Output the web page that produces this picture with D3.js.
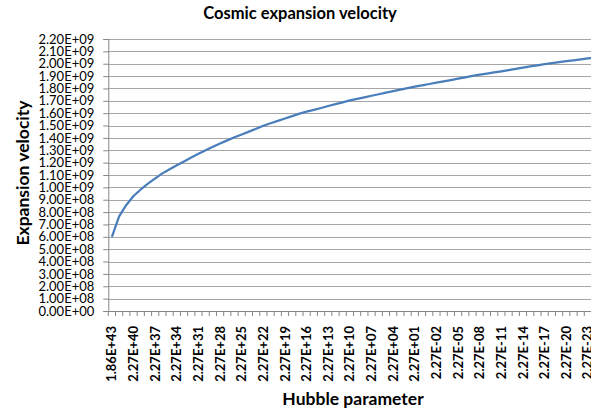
<!DOCTYPE html>
<html>
<head>
<meta charset="utf-8">
<script src="https://cdn.jsdelivr.net/npm/d3@7"></script>
<style>
  html, body { margin: 0; padding: 0; background: #fff; overflow: hidden; }
  svg { display: block; font-family: Lato, "Open Sans", sans-serif; }
</style>
</head>
<body>
<svg id="chart" width="591" height="414"></svg>
<script>
// Hubble parameter categories (only every third one gets a label)
const hubble = [
  "1.86E+43", "2.27E+42", "2.27E+41", "2.27E+40", "2.27E+39", "2.27E+38",
  "2.27E+37", "2.27E+36", "2.27E+35", "2.27E+34", "2.27E+33", "2.27E+32",
  "2.27E+31", "2.27E+30", "2.27E+29", "2.27E+28", "2.27E+27", "2.27E+26",
  "2.27E+25", "2.27E+24", "2.27E+23", "2.27E+22", "2.27E+21", "2.27E+20",
  "2.27E+19", "2.27E+18", "2.27E+17", "2.27E+16", "2.27E+15", "2.27E+14",
  "2.27E+13", "2.27E+12", "2.27E+11", "2.27E+10", "2.27E+09", "2.27E+08",
  "2.27E+07", "2.27E+06", "2.27E+05", "2.27E+04", "2.27E+03", "2.27E+02",
  "2.27E+01", "2.27E+00", "2.27E-01", "2.27E-02", "2.27E-03", "2.27E-04",
  "2.27E-05", "2.27E-06", "2.27E-07", "2.27E-08", "2.27E-09", "2.27E-10",
  "2.27E-11", "2.27E-12", "2.27E-13", "2.27E-14", "2.27E-15", "2.27E-16",
  "2.27E-17", "2.27E-18", "2.27E-19", "2.27E-20", "2.27E-21", "2.27E-22",
  "2.27E-23", "2.27E-24", "2.27E-25"
];

// expansion velocity
const velocity = [
  6.00e8, 7.65e8, 8.58e8, 9.30e8, 9.83e8, 10.30e8,
  10.73e8, 11.13e8, 11.47e8, 11.79e8, 12.10e8, 12.41e8,
  12.71e8, 13.00e8, 13.28e8, 13.55e8, 13.80e8, 14.05e8,
  14.28e8, 14.51e8, 14.74e8, 14.98e8, 15.19e8, 15.38e8,
  15.57e8, 15.76e8, 15.96e8, 16.12e8, 16.27e8, 16.42e8,
  16.58e8, 16.73e8, 16.88e8, 17.03e8, 17.15e8, 17.28e8,
  17.41e8, 17.53e8, 17.66e8, 17.78e8, 17.91e8, 18.03e8,
  18.14e8, 18.25e8, 18.36e8, 18.47e8, 18.58e8, 18.68e8,
  18.79e8, 18.90e8, 19.01e8, 19.11e8, 19.20e8, 19.30e8,
  19.39e8, 19.49e8, 19.58e8, 19.68e8, 19.78e8, 19.87e8,
  19.97e8, 20.05e8, 20.13e8, 20.21e8, 20.28e8, 20.36e8,
  20.43e8, 20.50e8, 20.57e8
];

// y axis ticks
const yTicks = d3.range(0, 23).map(i => i * 1e8);

const svg = d3.select('#chart');
const plotLeft = 108.3, plotTop = 39, plotBottom = 311;
const band = 7.212;

const x = d3.scaleBand()
  .domain(hubble)
  .range([plotLeft, plotLeft + band * hubble.length])
  .paddingInner(0)
  .paddingOuter(0);

const y = d3.scaleLinear()
  .domain([0, 2.2e9])
  .range([plotBottom, plotTop]);

const fmt = v => {
  const s = v.toExponential(2).toUpperCase();
  return s.replace(/E([+-])(\d)$/, 'E$10$2');
};

// gridlines
svg.append('g')
  .selectAll('line')
  .data(yTicks.slice(1))
  .join('line')
  .attr('x1', plotLeft)
  .attr('x2', x.range()[1])
  .attr('y1', d => Math.round(y(d)) + 0.5)
  .attr('y2', d => Math.round(y(d)) + 0.5)
  .attr('stroke', '#a6a6a6')
  .attr('stroke-width', 1);

// y axis
const yAxis = svg.append('g')
  .attr('transform', `translate(${plotLeft},0)`)
  .call(d3.axisLeft(y).tickValues(yTicks).tickFormat(fmt).tickSizeOuter(0).tickSize(5).tickPadding(9));
yAxis.select('.domain').attr('stroke', '#868686');
yAxis.selectAll('.tick line').attr('stroke', '#868686');
yAxis.selectAll('.tick text')
  .attr('fill', '#000')
  .style('font-size', '13px')
  .style('font-family', 'Lato, sans-serif');

// x axis
const xAxis = svg.append('g')
  .attr('transform', `translate(0,${plotBottom})`)
  .call(d3.axisBottom(x).tickSize(0).tickSizeOuter(0)
    .tickValues(hubble.filter((d, i) => i % 3 === 0)));
xAxis.select('.domain').attr('stroke', '#868686');
xAxis.selectAll('.tick text')
  .attr('fill', '#000')
  .attr('transform', 'rotate(-90)')
  .attr('text-anchor', 'end')
  .attr('x', -15)
  .attr('y', 0)
  .attr('dy', '0.35em')
  .style('font-size', '13px')
  .style('font-weight', 'bold')
  .style('font-family', 'Lato, sans-serif');

// tick marks on category boundaries
svg.append('g')
  .selectAll('line')
  .data(hubble)
  .join('line')
  .attr('x1', d => x(d))
  .attr('x2', d => x(d))
  .attr('y1', plotBottom)
  .attr('y2', plotBottom + 5)
  .attr('stroke', '#868686');

// series line
const line = d3.line()
  .x((d, i) => x(hubble[i]) + x.bandwidth() / 2)
  .y(d => y(d));

svg.append('path')
  .datum(velocity)
  .attr('d', line)
  .attr('fill', 'none')
  .attr('stroke', '#4a7ebb')
  .attr('stroke-width', 2.25)
  .attr('stroke-linejoin', 'round');

// titles
svg.append('text')
  .attr('x', 300)
  .attr('y', 19)
  .attr('text-anchor', 'middle')
  .style('font-size', '16.5px')
  .style('font-weight', 'bold')
  .text('Cosmic expansion velocity');

svg.append('text')
  .attr('transform', 'translate(29,173) rotate(-90)')
  .attr('text-anchor', 'middle')
  .style('font-size', '17.5px')
  .style('font-weight', 'bold')
  .text('Expansion velocity');

svg.append('text')
  .attr('x', 353)
  .attr('y', 405)
  .attr('text-anchor', 'middle')
  .style('font-size', '17.5px')
  .style('font-weight', 'bold')
  .text('Hubble parameter');
</script>
</body>
</html>
